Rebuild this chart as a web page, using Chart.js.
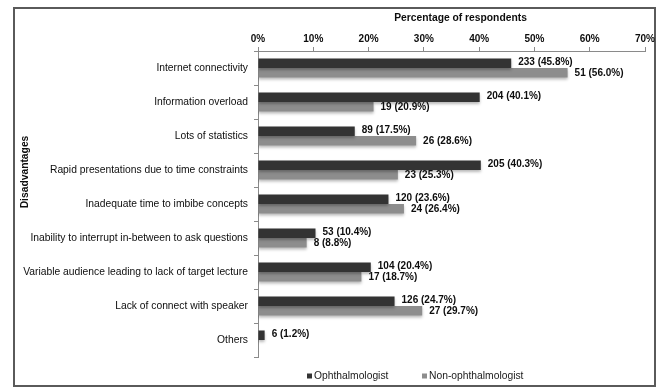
<!DOCTYPE html>
<html>
<head>
<meta charset="utf-8">
<script src="https://cdn.jsdelivr.net/npm/chart.js@4.4.1/dist/chart.umd.min.js"></script>
<style>
  html, body { margin: 0; padding: 0; background: #fff; }
  #wrap { width: 662px; height: 388px; position: relative; }
</style>
</head>
<body>
<div id="wrap"><canvas id="c" width="662" height="388"></canvas></div>
<script>
// Disadvantages of online lectures, by respondent group
const categories = [
  'Internet connectivity',
  'Information overload',
  'Lots of statistics',
  'Rapid presentations due to time constraints',
  'Inadequate time to imbibe concepts',
  'Inability to interrupt in-between to ask questions',
  'Variable audience leading to lack of target lecture',
  'Lack of connect with speaker',
  'Others'
];
const ophthPercent = [45.8, 40.1, 17.5, 40.3, 23.6, 10.4, 20.4, 24.7, 1.2];
const ophthCount   = [233, 204, 89, 205, 120, 53, 104, 126, 6];
const nonOphthPercent = [56.0, 20.9, 28.6, 25.3, 26.4, 8.8, 18.7, 29.7, null];
const nonOphthCount   = [51, 19, 26, 23, 24, 8, 17, 27, null];
const seriesNames = ['Ophthalmologist', 'Non-ophthalmologist'];
const xTitle = 'Percentage of respondents';
const yTitle = 'Disadvantages';

const FONT = '"Liberation Sans", Arial, sans-serif';
const TEXT = '#0d0d0d';
const AXIS = '#8a8a8a';
const counts = [ophthCount, nonOphthCount];

// Outer frame around the figure
const framePlugin = {
  id: 'frame',
  beforeDraw(chart) {
    const ctx = chart.ctx;
    ctx.save();
    ctx.strokeStyle = '#5a5a5a';
    ctx.lineWidth = 2;
    ctx.strokeRect(14, 8, 641, 378);
    ctx.restore();
  }
};

// Soft drop shadow under the bars
const shadowPlugin = {
  id: 'barShadow',
  beforeDatasetDraw(chart) {
    const ctx = chart.ctx;
    ctx.save();
    ctx.shadowColor = 'rgba(0,0,0,0.28)';
    ctx.shadowBlur = 3;
    ctx.shadowOffsetY = 2;
  },
  afterDatasetDraw(chart) {
    chart.ctx.restore();
  }
};

// "count (percent%)" label at the end of every bar
const valueLabelPlugin = {
  id: 'valueLabels',
  afterDatasetsDraw(chart) {
    const ctx = chart.ctx;
    ctx.save();
    ctx.font = 'bold 10px ' + FONT;
    ctx.fillStyle = TEXT;
    ctx.textAlign = 'left';
    ctx.textBaseline = 'middle';
    chart.data.datasets.forEach((ds, di) => {
      const meta = chart.getDatasetMeta(di);
      meta.data.forEach((bar, i) => {
        const v = ds.data[i];
        if (v === null || v === undefined) return;
        const txt = counts[di][i] + ' (' + v.toFixed(1) + '%)';
        ctx.fillText(txt, bar.x + 7, bar.y + (di === 0 ? -1 : 0));
      });
    });
    ctx.restore();
  }
};

// Axis titles and legend
const annotationPlugin = {
  id: 'titlesAndLegend',
  afterDraw(chart) {
    const ctx = chart.ctx;
    const area = chart.chartArea;
    ctx.save();
    ctx.fillStyle = TEXT;
    ctx.font = 'bold 10.3px ' + FONT;
    ctx.textAlign = 'center';
    ctx.textBaseline = 'middle';
    ctx.fillText(xTitle, (area.left + area.right) / 2 + 9, 18);

    ctx.save();
    ctx.translate(25, 172);
    ctx.rotate(-Math.PI / 2);
    ctx.fillText(yTitle, 0, 0);
    ctx.restore();

    // legend
    ctx.font = '10.3px ' + FONT;
    ctx.textAlign = 'left';
    const ly = 376;
    const starts = [307, 422];
    chart.data.datasets.forEach((ds, di) => {
      const x = starts[di];
      ctx.fillStyle = ds.backgroundColor;
      ctx.fillRect(x, ly - 2.5, 5, 5);
      ctx.fillStyle = '#1a1a1a';
      ctx.fillText(ds.label, x + 7, ly);
    });
    ctx.restore();
  }
};

new Chart(document.getElementById('c'), {
  type: 'bar',
  data: {
    labels: categories,
    datasets: [
      { label: seriesNames[0], data: ophthPercent, backgroundColor: '#333333' },
      { label: seriesNames[1], data: nonOphthPercent, backgroundColor: '#8d8d8d' }
    ]
  },
  options: {
    indexAxis: 'y',
    responsive: false,
    animation: false,
    devicePixelRatio: 1,
    categoryPercentage: 0.56,
    barPercentage: 1.0,
    layout: { padding: { left: 0, top: 8, right: 17, bottom: 31 } },
    plugins: {
      legend: { display: false },
      tooltip: { enabled: false }
    },
    scales: {
      x: {
        position: 'top',
        min: 0,
        max: 70,
        afterFit(scale) { scale.height = 43; },
        ticks: {
          stepSize: 10,
          padding: 2,
          color: TEXT,
          font: { family: FONT, size: 10, weight: 'bold' },
          callback: v => v + '%'
        },
        grid: { drawOnChartArea: false, tickLength: 4, color: AXIS },
        border: { color: AXIS }
      },
      y: {
        afterFit(scale) { scale.width = 258; },
        ticks: {
          padding: 6,
          color: TEXT,
          font: { family: FONT, size: 10.3 }
        },
        grid: { drawOnChartArea: false, tickLength: 4, color: AXIS, offset: true },
        border: { color: AXIS }
      }
    }
  },
  plugins: [framePlugin, shadowPlugin, valueLabelPlugin, annotationPlugin]
});
</script>
</body>
</html>
